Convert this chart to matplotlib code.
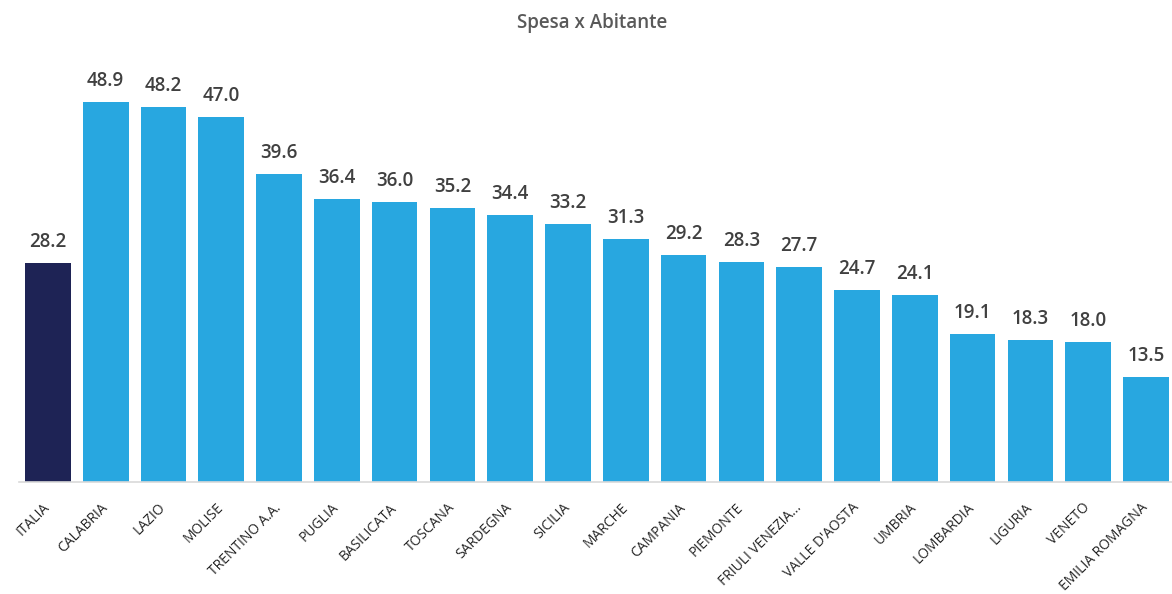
import matplotlib.pyplot as plt

regions = ["ITALIA", "CALABRIA", "LAZIO", "MOLISE", "TRENTINO A.A.", "PUGLIA",
           "BASILICATA", "TOSCANA", "SARDEGNA", "SICILIA", "MARCHE", "CAMPANIA",
           "PIEMONTE", "FRIULI VENEZIA...", "VALLE D'AOSTA", "UMBRIA",
           "LOMBARDIA", "LIGURIA", "VENETO", "EMILIA ROMAGNA"]
spesa = [28.2, 48.9, 48.2, 47.0, 39.6, 36.4, 36.0, 35.2, 34.4, 33.2, 31.3,
         29.2, 28.3, 27.7, 24.7, 24.1, 19.1, 18.3, 18.0, 13.5]

plt.rcParams['font.family'] = ['Open Sans', 'DejaVu Sans']

fig = plt.figure(figsize=(11.72, 5.94), dpi=100)
ax = fig.add_axes([19 / 1172, 112 / 594, 1153 / 1172, 482 / 594])

colors = ['#1e2355'] + ['#28a7e0'] * (len(regions) - 1)
x = range(len(regions))
bars = ax.bar(x, spesa, width=0.79, color=colors)

for b, v in zip(bars, spesa):
    ax.text(b.get_x() + b.get_width() / 2, v + 1.4, f"{v:.1f}",
            ha='center', va='bottom', fontsize=13.5, fontweight='semibold',
            color='#404040')

ax.set_xlim(-0.5, 19.45)
ax.set_ylim(0, 62)
ax.set_xticks(list(x))
ax.set_xticklabels(regions, rotation=45, ha='right', va='center',
                   rotation_mode='anchor', fontsize=10, color='#262626')
ax.tick_params(axis='x', length=0, pad=17)
ax.set_yticks([])
for s in ['top', 'right', 'left']:
    ax.spines[s].set_visible(False)
ax.spines['bottom'].set_color('#d9d9d9')
ax.spines['bottom'].set_linewidth(1.2)

fig.text(0.505, 0.962, "Spesa x Abitante", ha='center', va='center',
         fontsize=13.5, fontweight='semibold', color='#595959')

fig.savefig("out.png", dpi=100)
